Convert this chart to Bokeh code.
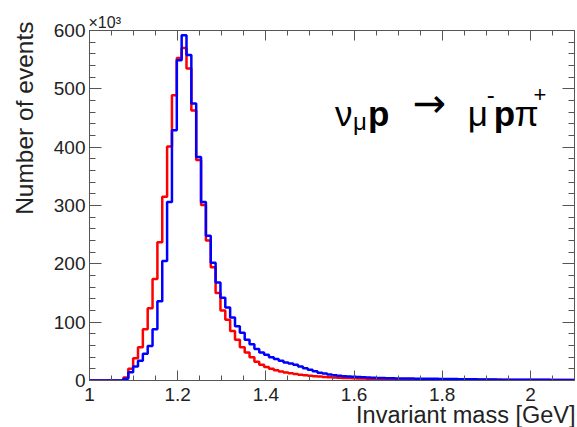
import numpy as np
from bokeh.plotting import figure
from bokeh.models import (Range1d, FixedTicker, LinearAxis, NumeralTickFormatter,
                          CustomJSTickFormatter, Label, Title)
from bokeh.embed import file_html
from bokeh.resources import INLINE

# ---------------- data ----------------
mass_range = [1.0, 2.1]          # histogram range [GeV]
x_ticks = [1.0, 1.2, 1.4, 1.6, 1.8, 2.0]
y_ticks = [0, 100, 200, 300, 400, 500, 600]   # x10^3 events

# events per bin (x10^3), 100 bins of equal width over mass_range
red_counts = [
    0, 0, 0, 0, 0, 0, 0, 5, 20, 38,
    57, 88, 124, 174, 237, 315, 401, 489, 553, 570,
    535, 463, 378, 301, 240, 194, 150, 120, 104, 85,
    70, 57, 48, 40, 32, 27, 23, 20, 17.5, 15.5,
    13.8, 12.3, 11, 10, 9, 8.2, 7.4, 6.8, 6.2, 5.7,
    5.2, 4.8, 4.4, 4.1, 3.8, 3.5, 3.3, 3.1, 2.9, 2.7,
    2.5, 2.4, 2.3, 2.2, 2.1, 2.0, 1.9, 1.8, 1.7, 1.6,
    1.6, 1.5, 1.5, 1.4, 1.4, 1.3, 1.3, 1.3, 1.2, 1.2,
    1.2, 1.1, 1.1, 1.1, 1.1, 1.0, 1.0, 1.0, 1.0, 1.0,
    0.9, 0.9, 0.9, 0.9, 0.8, 0.8, 0.8, 0.8, 0.7, 0.7,
]
blue_counts = [
    0, 0, 0, 0, 0, 0, 0, 3, 14, 24,
    34, 46, 59, 88, 136, 205, 306, 429, 549, 592,
    558, 475, 383, 306, 248, 202, 168, 142, 125, 108,
    93, 82, 70, 62, 54, 48, 44, 40, 37, 34,
    31, 29, 27, 24, 21, 18.5, 16, 13.5, 12, 10.5,
    9, 8.2, 7.5, 6.9, 6.3, 5.8, 5.4, 5.0, 4.7, 4.4,
    4.2, 4.0, 3.8, 3.6, 3.5, 3.4, 3.3, 3.2, 3.1, 3.0,
    2.9, 2.8, 2.7, 2.6, 2.5, 2.4, 2.3, 2.2, 2.1, 2.0,
    1.9, 1.8, 1.7, 1.6, 1.5, 1.5, 1.4, 1.4, 1.3, 1.3,
    1.2, 1.2, 1.1, 1.1, 1.1, 1.0, 1.0, 1.0, 0.9, 0.9,
]

FONT = "Liberation Sans"
AXC = "#555555"
TXT = "#222222"

edges = np.linspace(mass_range[0], mass_range[1], len(red_counts) + 1)

p = figure(width=577, height=427, output_backend="svg", toolbar_location=None,
           x_range=Range1d(mass_range[0], mass_range[1]),
           y_range=Range1d(y_ticks[0], y_ticks[-1]),
           min_border_left=89, min_border_right=3,
           min_border_top=30, min_border_bottom=47)
p.grid.visible = False
p.outline_line_color = None
p.background_fill_color = "white"
p.border_fill_color = "white"

p.step(x=edges, y=np.append(red_counts, red_counts[-1]), mode="after",
       line_color="#ff0000", line_width=2.5)
p.step(x=edges, y=np.append(blue_counts, blue_counts[-1]), mode="after",
       line_color="#0000ff", line_width=2.5)

x_minor = list(np.round(np.arange(mass_range[0], mass_range[1] + 1e-9, 0.05), 3))
y_minor = list(range(y_ticks[0], y_ticks[-1] + 1, 20))


def style(ax, tin, tmin):
    ax.axis_line_color = AXC
    ax.axis_line_width = 1
    ax.major_tick_line_color = AXC
    ax.minor_tick_line_color = AXC
    ax.major_tick_in = tin
    ax.major_tick_out = 0
    ax.minor_tick_in = tmin
    ax.minor_tick_out = 0
    ax.major_label_text_font = FONT
    ax.major_label_text_font_size = "19px"
    ax.major_label_text_color = TXT


xb = p.xaxis[0]
xb.ticker = FixedTicker(ticks=x_ticks, minor_ticks=x_minor)
xb.formatter = NumeralTickFormatter(format="0.[0]")
style(xb, 10, 5)
xb.major_label_standoff = 7

yl = p.yaxis[0]
yl.ticker = FixedTicker(ticks=y_ticks, minor_ticks=y_minor)
style(yl, 12, 6)
yl.major_label_standoff = 4

blank = CustomJSTickFormatter(code="return ''")
xt = LinearAxis(ticker=FixedTicker(ticks=x_ticks, minor_ticks=x_minor), formatter=blank)
style(xt, 10, 5)
xt.major_label_standoff = 0
p.add_layout(xt, "above")
yr = LinearAxis(ticker=FixedTicker(ticks=y_ticks, minor_ticks=y_minor), formatter=blank)
style(yr, 12, 6)
yr.major_label_standoff = 0
p.add_layout(yr, "right")

# axis titles, right-justified at the axis ends (ROOT style)
xtitle = Title(text="Invariant mass [GeV]", align="right", offset=-1,
               vertical_align="bottom", text_font=FONT, text_font_size="23.5px",
               text_font_style="normal", text_color=TXT)
try:
    xtitle.standoff = -7
except Exception:
    xtitle.standoff = 0
p.add_layout(xtitle, "below")

ytitle = Title(text="Number of events", align="right", offset=-9, standoff=21,
               vertical_align="top", text_font=FONT, text_font_size="24.5px",
               text_font_style="normal", text_color=TXT)
p.add_layout(ytitle, "left")

# exponent of the y axis
p.title.text = "\u00d710\u00b3"
p.title.align = "left"
p.title.offset = -1
p.title.standoff = 0
p.title.text_font = FONT
p.title.text_font_size = "16px"
p.title.text_font_style = "normal"
p.title.text_color = TXT


def lab(text, x, y, size, font=FONT, **kw):
    l = Label(x=x, y=y, text=text, text_font=font, text_font_size=size,
              text_color="black", **kw)
    p.add_layout(l)


# reaction label
lab("\u03bd", 1.5568, 457.7, "35px", text_align="left", text_baseline="alphabetic")
lab("\u03bc", 1.5976, 444, "24px", text_align="left", text_baseline="alphabetic")
lab("p", 1.6315, 457.7, "35px", text_font_style="bold", text_align="left", text_baseline="alphabetic")
lab("\u2192", 1.7334, 474.9, "40px", font="DejaVu Sans", text_align="left", text_baseline="middle")
lab("\u03bc", 1.8579, 457.7, "35px", text_align="left", text_baseline="alphabetic")
lab("-", 1.9009, 490.6, "24px", text_align="left", text_baseline="alphabetic")
lab("p", 1.9167, 457.7, "35px", text_font_style="bold", text_align="left", text_baseline="alphabetic")
lab("\u03c0", 1.9642, 457.7, "35px", text_align="left", text_baseline="alphabetic")
lab("+", 2.0072, 490.6, "22px", text_align="left", text_baseline="alphabetic")

open("out.html", "w").write(file_html(p, INLINE))
